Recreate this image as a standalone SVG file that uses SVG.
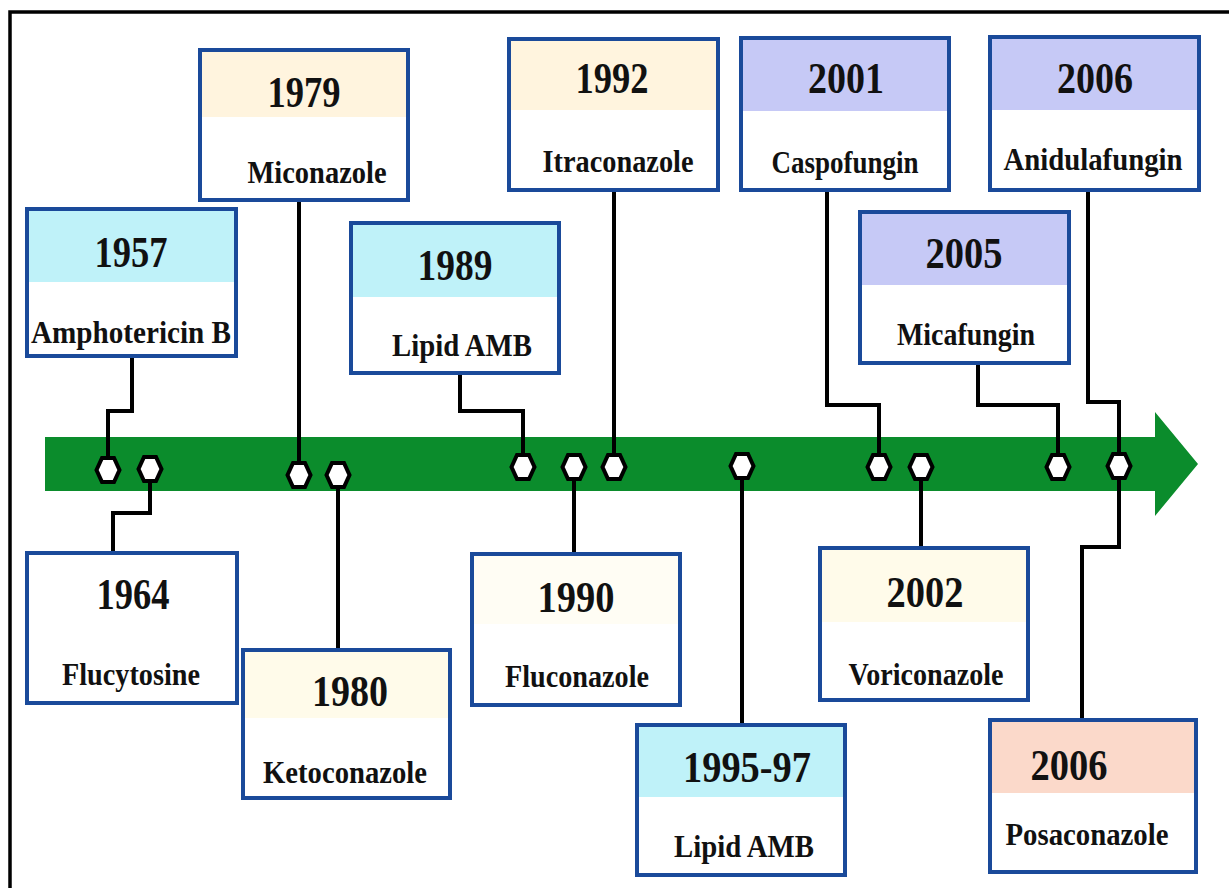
<svg xmlns="http://www.w3.org/2000/svg" xmlns:xlink="http://www.w3.org/1999/xlink" width="1229" height="888" viewBox="0 0 1229 888">
<style>
.box{fill:#ffffff;stroke:#1a4a9a;stroke-width:4}
.yr{font-family:"Liberation Serif","Times New Roman",serif;font-weight:bold;font-size:45px;fill:#111;text-anchor:middle}
.nm{font-family:"Liberation Serif","Times New Roman",serif;font-weight:bold;font-size:32px;fill:#111;text-anchor:middle}
.con{fill:none;stroke:#000;stroke-width:4;stroke-linejoin:miter}
.hex{fill:#fff;stroke:#000;stroke-width:4}
.cy{fill:#bff2f9}.cr{fill:#fff4de}.lv{fill:#c6c9f6}.ye{fill:#fffbea}.pe{fill:#fbd9ca}.wy{fill:#fffdf4}
</style>
<defs>
<polygon id="hx" points="-11.5,0 -6,-12 6,-12 11.5,0 6,12 -6,12"/>
</defs>
<rect x="10" y="12" width="1240" height="900" fill="#fff" stroke="#000" stroke-width="3.5"/>
<g id="arrow">
<polygon points="45,437 1155,437 1155,412 1198,464 1155,516 1155,491 45,491" fill="#0b8c2c"/>
</g>
<g id="connectors">
<path class="con" d="M132,356 V411 H108 V458"/>
<path class="con" d="M150,480 V513 H113 V553"/>
<path class="con" d="M299,200 V463"/>
<path class="con" d="M338,487 V650"/>
<path class="con" d="M460,373 V411 H523 V455"/>
<path class="con" d="M574,479 V554"/>
<path class="con" d="M614,190 V455"/>
<path class="con" d="M742,478 V725"/>
<path class="con" d="M827,190 V405 H879 V455"/>
<path class="con" d="M921,479 V548"/>
<path class="con" d="M978,363 V405 H1058 V455"/>
<path class="con" d="M1088,190 V402 H1119 V454"/>
<path class="con" d="M1119,478 V547 H1082 V720"/>
</g>
<g id="markers">
<use xlink:href="#hx" class="hex" x="108" y="470"/>
<use xlink:href="#hx" class="hex" x="150" y="469"/>
<use xlink:href="#hx" class="hex" x="299" y="475"/>
<use xlink:href="#hx" class="hex" x="338" y="475"/>
<use xlink:href="#hx" class="hex" x="523" y="467"/>
<use xlink:href="#hx" class="hex" x="574" y="467"/>
<use xlink:href="#hx" class="hex" x="614" y="467"/>
<use xlink:href="#hx" class="hex" x="742" y="466"/>
<use xlink:href="#hx" class="hex" x="879" y="467"/>
<use xlink:href="#hx" class="hex" x="921" y="467"/>
<use xlink:href="#hx" class="hex" x="1058" y="467"/>
<use xlink:href="#hx" class="hex" x="1119" y="466"/>
</g>
<g id="n1957">
<rect class="box" x="27" y="209" width="209" height="147"/>
<rect class="cy" x="29" y="211" width="205" height="71"/>
<text class="yr" x="131" y="267" textLength="73" lengthAdjust="spacingAndGlyphs">1957</text>
<text class="nm" x="131" y="343" textLength="200" lengthAdjust="spacingAndGlyphs">Amphotericin B</text>
</g>
<g id="n1979">
<rect class="box" x="200" y="50" width="208" height="150"/>
<rect class="cr" x="202" y="52" width="204" height="65"/>
<text class="yr" x="304" y="107" textLength="73" lengthAdjust="spacingAndGlyphs">1979</text>
<text class="nm" x="317" y="183" textLength="139" lengthAdjust="spacingAndGlyphs">Miconazole</text>
</g>
<g id="n1989">
<rect class="box" x="351" y="223" width="208" height="150"/>
<rect class="cy" x="353" y="225" width="204" height="72"/>
<text class="yr" x="455" y="280" textLength="75" lengthAdjust="spacingAndGlyphs">1989</text>
<text class="nm" x="462" y="356" textLength="140" lengthAdjust="spacingAndGlyphs">Lipid AMB</text>
</g>
<g id="n1992">
<rect class="box" x="509" y="39" width="209" height="151"/>
<rect class="cr" x="511" y="41" width="205" height="69"/>
<text class="yr" x="612" y="93" textLength="73" lengthAdjust="spacingAndGlyphs">1992</text>
<text class="nm" x="618" y="172" textLength="151" lengthAdjust="spacingAndGlyphs">Itraconazole</text>
</g>
<g id="n2001">
<rect class="box" x="741" y="38" width="208" height="152"/>
<rect class="lv" x="743" y="40" width="204" height="71"/>
<text class="yr" x="846" y="93" textLength="76" lengthAdjust="spacingAndGlyphs">2001</text>
<text class="nm" x="845" y="173" textLength="147" lengthAdjust="spacingAndGlyphs">Caspofungin</text>
</g>
<g id="n2006a">
<rect class="box" x="990" y="37" width="209" height="153"/>
<rect class="lv" x="992" y="39" width="205" height="71"/>
<text class="yr" x="1095" y="93" textLength="76" lengthAdjust="spacingAndGlyphs">2006</text>
<text class="nm" x="1093" y="170" textLength="179" lengthAdjust="spacingAndGlyphs">Anidulafungin</text>
</g>
<g id="n2005">
<rect class="box" x="860" y="212" width="209" height="151"/>
<rect class="lv" x="862" y="214" width="205" height="71"/>
<text class="yr" x="964" y="268" textLength="77" lengthAdjust="spacingAndGlyphs">2005</text>
<text class="nm" x="966" y="345" textLength="138" lengthAdjust="spacingAndGlyphs">Micafungin</text>
</g>
<g id="n1964">
<rect class="box" x="27" y="553" width="210" height="150"/>
<text class="yr" x="133" y="609" textLength="73" lengthAdjust="spacingAndGlyphs">1964</text>
<text class="nm" x="131" y="685" textLength="138" lengthAdjust="spacingAndGlyphs">Flucytosine</text>
</g>
<g id="n1980">
<rect class="box" x="243" y="650" width="207" height="148"/>
<rect class="ye" x="245" y="652" width="203" height="66"/>
<text class="yr" x="350" y="706" textLength="76" lengthAdjust="spacingAndGlyphs">1980</text>
<text class="nm" x="345" y="783" textLength="164" lengthAdjust="spacingAndGlyphs">Ketoconazole</text>
</g>
<g id="n1990">
<rect class="box" x="472" y="554" width="208" height="151"/>
<rect class="wy" x="474" y="556" width="204" height="68"/>
<text class="yr" x="576" y="612" textLength="77" lengthAdjust="spacingAndGlyphs">1990</text>
<text class="nm" x="577" y="687" textLength="144" lengthAdjust="spacingAndGlyphs">Fluconazole</text>
</g>
<g id="n1995">
<rect class="box" x="637" y="725" width="208" height="150"/>
<rect class="cy" x="639" y="727" width="204" height="70"/>
<text class="yr" x="747" y="782" textLength="128" lengthAdjust="spacingAndGlyphs">1995-97</text>
<text class="nm" x="744" y="857" textLength="140" lengthAdjust="spacingAndGlyphs">Lipid AMB</text>
</g>
<g id="n2002">
<rect class="box" x="820" y="548" width="208" height="152"/>
<rect class="ye" x="822" y="550" width="204" height="72"/>
<text class="yr" x="925" y="607" textLength="77" lengthAdjust="spacingAndGlyphs">2002</text>
<text class="nm" x="926" y="685" textLength="155" lengthAdjust="spacingAndGlyphs">Voriconazole</text>
</g>
<g id="n2006p">
<rect class="box" x="990" y="720" width="206" height="152"/>
<rect class="pe" x="992" y="722" width="202" height="71"/>
<text class="yr" x="1069" y="780" textLength="77" lengthAdjust="spacingAndGlyphs">2006</text>
<text class="nm" x="1087" y="845" textLength="163" lengthAdjust="spacingAndGlyphs">Posaconazole</text>
</g>
</svg>
